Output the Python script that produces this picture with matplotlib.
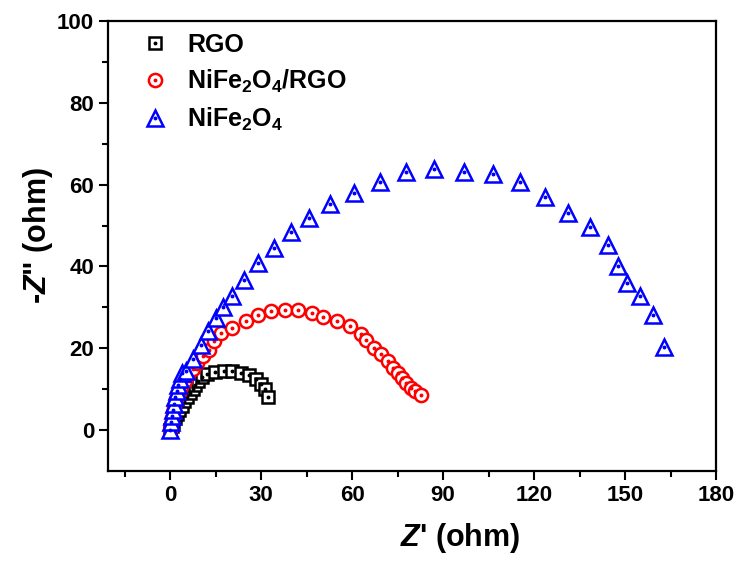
import matplotlib
matplotlib.use('Agg')
import matplotlib.pyplot as plt

plt.rcParams['font.family'] = ['Liberation Sans', 'DejaVu Sans']
plt.rcParams['font.weight'] = 'bold'
plt.rcParams['mathtext.fontset'] = 'custom'
plt.rcParams['mathtext.rm'] = 'Liberation Sans:bold'
plt.rcParams['mathtext.bf'] = 'Liberation Sans:bold'
plt.rcParams['mathtext.it'] = 'Liberation Sans:italic:bold'
plt.rcParams['mathtext.bfit'] = 'Liberation Sans:italic:bold'
plt.rcParams['mathtext.default'] = 'bf'

# RGO
rgo_x = [0, 0.5, 1.0, 1.6, 2.3, 3.0, 3.8, 4.7, 5.6, 6.5, 7.4, 8.3, 9.3, 10.5,
         12.1, 14.9, 17.7, 20.5, 23.3, 26.1, 28.3, 30.0, 31.1, 32.2]
rgo_y = [0, 1.0, 2.0, 3.0, 4.0, 5.0, 6.0, 7.0, 8.0, 9.0, 10.0, 11.0, 12.0, 13.0,
         13.6, 14.2, 14.4, 14.4, 14.0, 13.4, 12.4, 11.2, 10.0, 8.2]

# NiFe2O4/RGO
nfr_x = [0, 0.2, 0.5, 0.9, 1.4, 2.0, 2.8, 3.7, 4.8, 6.0, 7.4, 9.0, 10.8, 12.7,
         14.4, 16.6, 20.5, 24.9, 28.8, 33.3, 37.7, 42.2, 46.7, 50.5, 55.0, 59.2,
         62.8, 64.5, 67.2, 69.5, 71.7, 73.4, 75.1, 76.4, 77.8, 79.3, 80.6, 82.6]
nfr_y = [0, 1.5, 3.0, 4.5, 6.0, 7.5, 9.0, 10.5, 12.0, 13.5, 15.0, 16.5, 18.0,
         19.7, 21.7, 23.8, 25.0, 26.6, 28.2, 29.0, 29.4, 29.3, 28.6, 27.7, 26.6,
         25.4, 23.4, 22.1, 20.1, 18.5, 16.9, 15.3, 14.0, 12.8, 11.6, 10.4, 9.6,
         8.5]

# NiFe2O4
nf_x = [0, 0.3, 0.6, 0.9, 1.3, 1.7, 2.2, 2.7, 3.3, 4.0, 5.3, 7.6, 10.0, 12.5,
        15.0, 17.5, 20.3, 24.4, 28.8, 34.1, 40.0, 45.9, 52.8, 60.6, 69.3, 77.8,
        87.1, 96.8, 106.5, 115.2, 123.5, 131.3, 138.5, 144.4, 147.8, 150.8,
        155.0, 159.1, 162.8]
nf_y = [0, 2.0, 3.5, 5.0, 6.5, 8.0, 9.5, 11.0, 12.5, 14.0, 14.4, 17.5, 20.8,
        24.2, 27.3, 30.0, 32.7, 36.7, 40.8, 44.5, 48.3, 51.8, 55.2, 57.9, 60.7,
        63.1, 63.9, 63.1, 62.5, 60.7, 57.0, 53.0, 49.6, 45.3, 40.1, 35.9, 32.7,
        28.2, 20.3]

labels = ['RGO', 'NiFe$_2$O$_4$/RGO', 'NiFe$_2$O$_4$']

fig = plt.figure(figsize=(7.42, 5.61), dpi=100)
ax = fig.add_axes([0.1456, 0.1604, 0.8194, 0.8022])

handles = []
series = [(rgo_x, rgo_y, 's', 'black', 8.5),
          (nfr_x, nfr_y, 'o', 'red', 9.5),
          (nf_x, nf_y, '^', 'blue', 12)]
for x, y, m, c, s in series:
    h1, = ax.plot(x, y, m, ms=s, mfc='white', mec=c, mew=1.8, ls='none')
    h2, = ax.plot(x, y, 'o', ms=1.8, color=c, ls='none')
    handles.append((h1, h2))

ax.legend(handles, labels, loc='upper left', bbox_to_anchor=(0.036, 0.995),
          frameon=False, fontsize=18, handletextpad=0.7, labelspacing=0.42,
          handlelength=1.2, borderaxespad=0.0)

ax.set_xlim(-20.5, 180)
ax.set_ylim(-10, 100)
ax.set_xticks([0, 30, 60, 90, 120, 150, 180])
ax.set_xticks([-15, 15, 45, 75, 105, 135, 165], minor=True)
ax.set_yticks([0, 20, 40, 60, 80, 100])
ax.set_yticks([10, 30, 50, 70, 90], minor=True)
ax.tick_params(which='major', direction='out', length=6.5, width=1.5,
               labelsize=16, top=False, right=False)
ax.tick_params(which='minor', direction='out', length=4.5, width=1.5,
               top=False, right=False)
for sp in ax.spines.values():
    sp.set_linewidth(1.6)

ax.set_xlabel(r"$\mathbfit{Z}$' (ohm)", fontsize=22, fontweight='bold')
ax.set_ylabel(r'-$\mathbfit{Z}$" (ohm)', fontsize=22, fontweight='bold')
ax.xaxis.set_label_coords(0.579, -0.11)
ax.yaxis.set_label_coords(-0.088, 0.524)

fig.savefig('out.png', dpi=100)
